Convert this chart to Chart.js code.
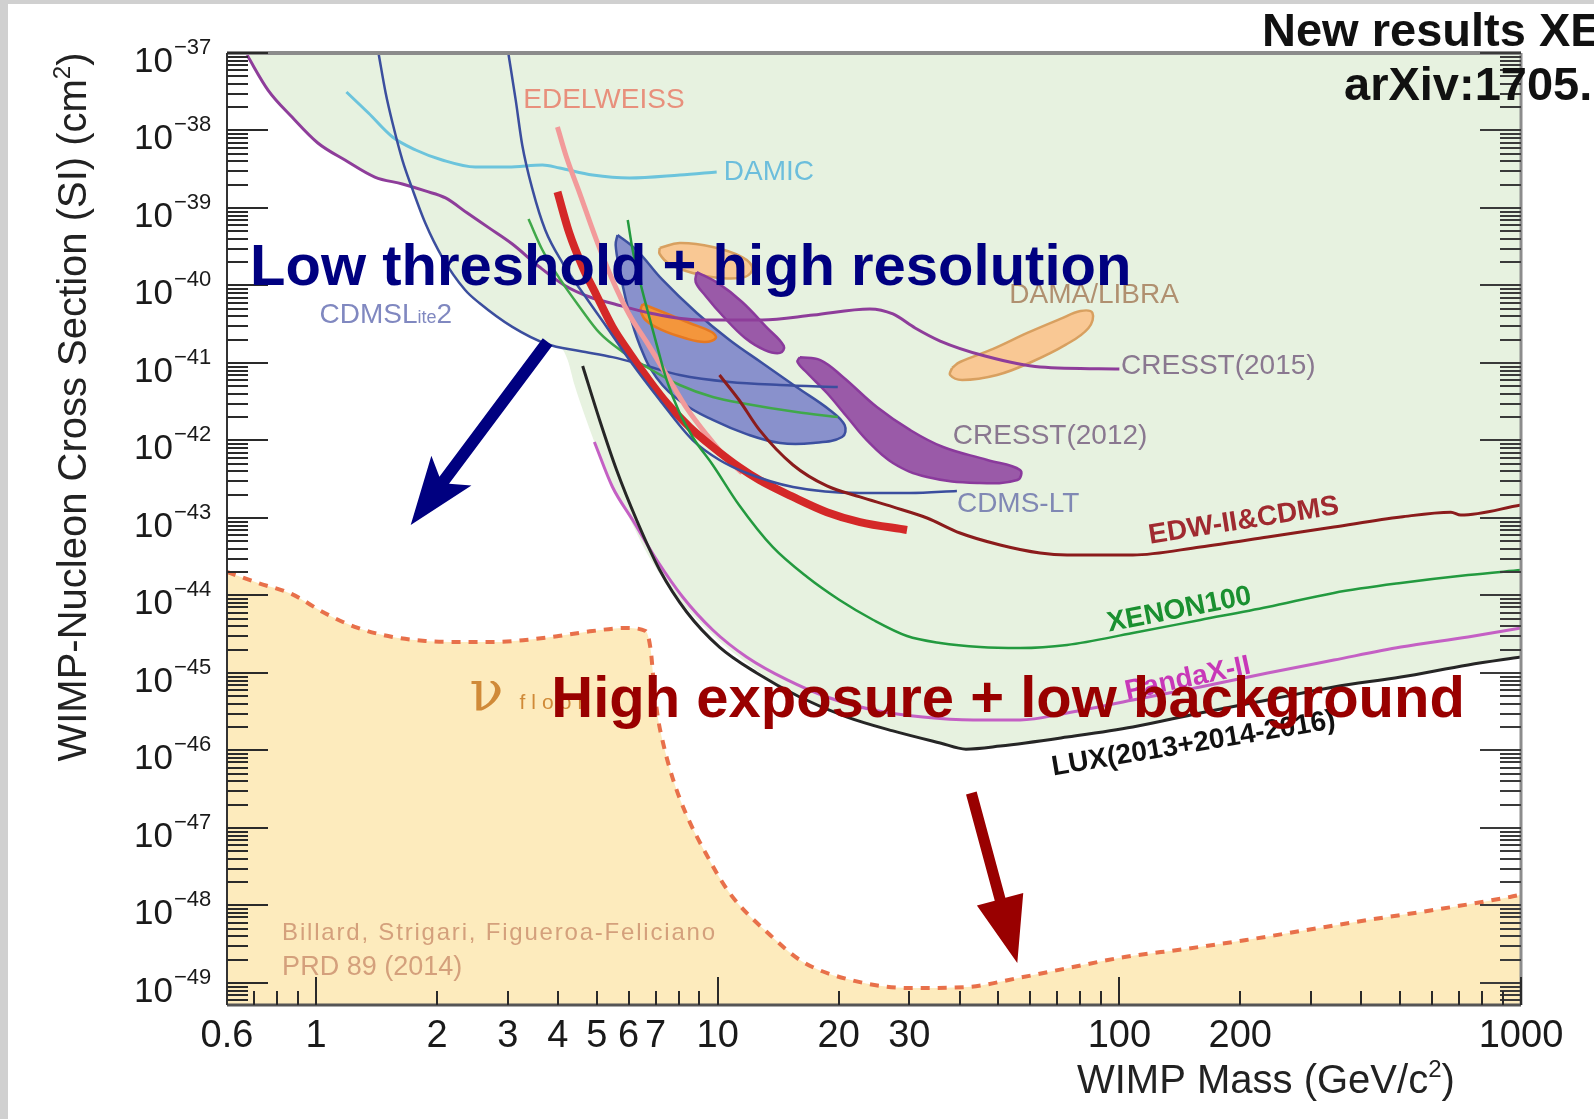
<!DOCTYPE html>
<html>
<head>
<meta charset="utf-8">
<title>WIMP limits</title>
<script src="https://cdn.jsdelivr.net/npm/chart.js@4.4.1/dist/chart.umd.min.js"></script>
<style>
  html, body { margin: 0; padding: 0; background: #fff; }
  #wrap { width: 1594px; height: 1119px; }
</style>
</head>
<body>
<div id="wrap"><canvas id="limitChart" width="1594" height="1119"></canvas></div>
<script>
// 1. DATA (mass in GeV/c^2, cross section in cm^2)
const cresst2015Mass  = [0.673, 0.759, 0.871, 1.01, 1.18, 1.40, 1.64, 1.87, 2.10, 2.38, 2.70, 3.08, 3.60, 4.15, 4.80, 5.53, 6.77, 9.02, 12.9, 17.3, 23.9, 27.3, 31.0, 35.8, 46.3, 63.5, 100];
const cresst2015Sigma = [9.4e-38, 3.33e-38, 1.49e-38, 6.9e-39, 4.16e-39, 2.51e-39, 2.04e-39, 1.66e-39, 1.35e-39, 8.6e-40, 5.5e-40, 3.43e-40, 1.73e-40, 1.01e-40, 7.1e-41, 5.77e-41, 4.42e-41, 3.59e-41, 3.59e-41, 4.16e-41, 4.98e-41, 4.29e-41, 2.83e-41, 1.92e-41, 1.23e-41, 8.87e-42, 8.37e-42];

const damicMass  = [1.19, 1.35, 1.55, 1.77, 2.06, 2.49, 3.01, 3.66, 4.04, 4.88, 6.03, 8.04, 9.94];
const damicSigma = [3.14e-38, 1.68e-38, 8.24e-39, 5.6e-39, 4.16e-39, 3.38e-39, 3.38e-39, 3.59e-39, 3.28e-39, 2.67e-39, 2.44e-39, 2.67e-39, 2.92e-39];

const cdmsliteMass  = [1.43, 1.49, 1.55, 1.64, 1.74, 1.87, 2.06, 2.35, 2.55, 3.08, 3.75, 4.53, 5.47, 6.65, 8.04, 10.7, 14.3, 19.9];
const cdmsliteSigma = [1.0e-37, 3.05e-38, 1.25e-38, 4.16e-39, 1.71e-39, 6.4e-40, 2.33e-40, 8.75e-41, 5.94e-41, 2.92e-41, 1.76e-41, 1.43e-41, 1.19e-41, 9.14e-42, 7.0e-42, 5.69e-42, 5.2e-42, 4.9e-42];

const cdmsLtMass  = [3.01, 3.14, 3.26, 3.46, 3.72, 4.11, 4.69, 5.29, 6.03, 7.17, 8.66, 10.1, 11.8, 15.4, 22.6, 30.1, 39.4];
const cdmsLtSigma = [1.0e-37, 2.48e-38, 6.5e-39, 1.71e-39, 5.2e-40, 1.95e-40, 7.1e-41, 2.92e-41, 1.09e-41, 3.33e-42, 1.01e-42, 5.6e-43, 3.81e-43, 2.51e-43, 2.1e-43, 2.1e-43, 2.23e-43];

const edelweissMass  = [3.99, 4.20, 4.53, 4.99, 5.47, 6.03, 6.65, 7.46, 8.37, 9.39, 10.5, 11.5];
const edelweissSigma = [1.11e-38, 4.55e-39, 1.56e-39, 3.86e-40, 1.18e-40, 4.16e-41, 1.87e-41, 7.0e-42, 2.62e-42, 1.18e-42, 5.94e-43, 3.81e-43];

const redBandMass  = [3.99, 4.27, 4.61, 4.99, 5.47, 6.03, 6.65, 7.46, 8.51, 9.72, 11.3, 12.7, 15.4, 18.7, 22.6, 29.6];
const redBandSigma = [1.61e-39, 4.75e-40, 1.73e-40, 7.5e-41, 2.92e-41, 1.35e-41, 6.6e-42, 3.05e-42, 1.49e-42, 8.24e-43, 4.55e-43, 3.09e-43, 1.87e-43, 1.19e-43, 8.87e-44, 7.0e-44];

const greenThinMass  = [3.38, 3.66, 4.06, 4.53, 5.08, 5.80, 6.65, 8.04, 9.72, 11.8, 15.7, 19.9];
const greenThinSigma = [7.2e-40, 2.87e-40, 1.18e-40, 5.28e-41, 2.44e-41, 1.39e-41, 8.87e-42, 5.2e-42, 3.64e-42, 2.96e-42, 2.33e-42, 2.01e-42];

const xenon100Mass  = [5.97, 6.14, 6.39, 6.65, 7.05, 7.46, 8.04, 8.66, 9.72, 11.3, 13.7, 16.7, 20.1, 24.4, 29.6, 35.8, 45.0, 56.6, 74.1, 108, 159, 234, 342, 502, 738, 1000];
const xenon100Sigma = [7.0e-40, 2.87e-40, 1.18e-40, 5.28e-41, 1.71e-41, 6.04e-42, 2.26e-42, 1.11e-42, 4.83e-43, 1.47e-43, 4.23e-44, 1.73e-44, 8.75e-45, 4.83e-45, 3.0e-45, 2.44e-45, 2.16e-45, 2.1e-45, 2.3e-45, 3.28e-45, 4.83e-45, 7.1e-45, 1.08e-44, 1.45e-44, 1.84e-44, 2.13e-44];

const edwCdmsMass  = [10.1, 11.3, 12.7, 15.4, 18.7, 22.6, 27.3, 33.2, 40.1, 50.5, 63.5, 74.1, 108, 159, 234, 342, 502, 669, 708, 1000];
const edwCdmsSigma = [7.0e-42, 3.33e-42, 1.37e-42, 4.83e-43, 2.59e-43, 1.87e-43, 1.39e-43, 1.0e-43, 6.4e-44, 4.48e-44, 3.53e-44, 3.33e-44, 3.33e-44, 4.23e-44, 5.69e-44, 7.66e-44, 1.03e-43, 1.19e-43, 1.09e-43, 1.47e-43];

const luxMass  = [4.61, 5.08, 5.60, 6.28, 7.17, 8.37, 10.1, 12.5, 16.0, 21.0, 27.3, 35.8, 41.5, 50.5, 74.1, 108, 159, 234, 342, 502, 738, 1000];
const luxSigma = [9.14e-42, 1.84e-42, 4.16e-43, 9.42e-44, 2.13e-44, 6.12e-45, 2.16e-45, 1.0e-45, 4.9e-46, 2.7e-46, 1.79e-46, 1.25e-46, 1.04e-46, 1.14e-46, 1.49e-46, 2.01e-46, 3.05e-46, 4.48e-46, 6.6e-46, 8.87e-46, 1.27e-45, 1.61e-45];

const pandaxMass  = [4.93, 5.47, 6.14, 7.05, 8.18, 9.72, 11.8, 14.9, 18.7, 24.4, 32.4, 43.3, 56.6, 74.1, 108, 159, 234, 342, 502, 738, 1000];
const pandaxSigma = [9.57e-43, 2.51e-43, 9.42e-44, 2.87e-44, 9.57e-45, 3.59e-45, 1.61e-45, 8.13e-46, 4.9e-46, 3.33e-46, 2.7e-46, 2.48e-46, 2.48e-46, 3.05e-46, 4.48e-46, 6.6e-46, 1.0e-45, 1.47e-45, 2.16e-45, 2.92e-45, 3.81e-45];

const nuFloorMass  = [0.6, 0.717, 0.871, 1.05, 1.27, 1.55, 1.87, 2.26, 2.75, 3.32, 4.01, 4.88, 5.90, 6.61, 6.81, 6.92, 7.08, 7.33, 7.72, 8.32, 9.33, 10.7, 13.5, 16.3, 21.5, 30.3, 41.8, 56.0, 74.6, 103, 146, 207, 293, 415, 607, 939, 1000];
const nuFloorSigma = [2.01e-44, 1.45e-44, 1.04e-44, 5.94e-45, 3.81e-45, 2.92e-45, 2.59e-45, 2.51e-45, 2.51e-45, 2.67e-45, 3.0e-45, 3.48e-45, 3.81e-45, 3.48e-45, 1.98e-45, 8.13e-46, 2.87e-46, 1.18e-46, 4.42e-47, 1.56e-47, 4.75e-48, 1.45e-48, 4.16e-49, 1.87e-49, 1.09e-49, 8.6e-50, 8.87e-50, 1.16e-49, 1.56e-49, 2.16e-49, 2.75e-49, 3.59e-49, 4.83e-49, 6.5e-49, 8.75e-49, 1.29e-48, 1.38e-48];

// lower edge of the green (excluded) region
const excludedMass  = [0.673, 0.759, 0.871, 1.01, 1.18, 1.40, 1.64, 1.73, 1.87, 2.06, 2.35, 2.55, 3.08, 3.75, 4.08, 4.23, 4.40, 4.66, 4.93, 5.38, 5.97, 6.77, 8.04, 9.72, 12.0, 16.0, 21.0, 27.3, 35.8, 41.5, 50.5, 74.1, 108, 159, 234, 342, 502, 738, 1000];
const excludedSigma = [9.4e-38, 3.33e-38, 1.49e-38, 6.9e-39, 4.16e-39, 2.51e-39, 2.04e-39, 1.81e-39, 6.4e-40, 2.33e-40, 8.75e-41, 5.94e-41, 2.92e-41, 1.76e-41, 1.56e-41, 1.09e-41, 5.2e-42, 2.13e-42, 9.57e-43, 3.09e-43, 1.09e-43, 3.05e-44, 8.75e-45, 3.09e-45, 1.27e-45, 4.9e-46, 2.7e-46, 1.79e-46, 1.25e-46, 1.04e-46, 1.14e-46, 1.49e-46, 2.01e-46, 3.05e-46, 4.48e-46, 6.6e-46, 8.87e-46, 1.27e-45, 1.61e-45];

// signal regions (closed contours)
const cdmsSiMass  = [5.63, 6.28, 7.29, 8.87, 10.7, 12.9, 15.7, 19.0, 20.7, 20.4, 17.3, 14.3, 11.8, 9.72, 8.18, 7.05, 6.39, 5.97, 5.70, 5.57, 5.63];
const cdmsSiSigma = [4.49e-40, 2.87e-40, 1.18e-40, 4.42e-41, 1.98e-41, 1.0e-41, 4.9e-42, 2.48e-42, 1.58e-42, 1.11e-42, 9.29e-43, 9.29e-43, 1.21e-42, 1.84e-42, 3.05e-42, 6.4e-42, 1.71e-41, 5.28e-41, 1.58e-40, 3.33e-40, 4.49e-40];

const cresst2012aMass  = [8.87, 10.0, 11.5, 13.2, 14.6, 14.3, 13.1, 11.7, 10.3, 9.33, 8.81, 8.87];
const cresst2012aSigma = [1.49e-40, 1.08e-40, 6.12e-41, 2.92e-41, 1.66e-41, 1.35e-41, 1.47e-41, 2.1e-41, 4.04e-41, 7.33e-41, 1.11e-40, 1.49e-40];

const cresst2012bMass  = [16.0, 18.0, 20.5, 24.9, 30.1, 36.4, 46.9, 56.6, 55.7, 44.3, 33.2, 27.3, 23.5, 21.0, 18.7, 16.7, 15.8, 16.0];
const cresst2012bSigma = [1.19e-41, 1.09e-41, 6.6e-42, 2.7e-42, 1.37e-42, 8.24e-43, 5.6e-43, 4.16e-43, 3.09e-43, 2.83e-43, 3.38e-43, 5.13e-43, 1.01e-42, 2.01e-42, 4.1e-42, 7.43e-42, 1.03e-41, 1.19e-41];

const damaAMass  = [7.17, 8.04, 9.72, 11.5, 12.2, 11.7, 10.1, 8.66, 7.59, 7.17, 7.17];
const damaASigma = [3.05e-40, 3.53e-40, 3.14e-40, 2.33e-40, 1.68e-40, 1.29e-40, 1.25e-40, 1.45e-40, 1.89e-40, 2.55e-40, 3.05e-40];

const damaBMass  = [38.3, 40.1, 48.5, 59.0, 71.3, 80.0, 85.7, 83.8, 73.4, 60.4, 49.6, 40.6, 37.9, 38.3];
const damaBSigma = [8.6e-42, 1.03e-41, 1.52e-41, 2.44e-41, 3.7e-41, 4.69e-41, 4.42e-41, 2.83e-41, 1.71e-41, 1.03e-41, 7.0e-42, 6.04e-42, 7.0e-42, 8.6e-42];

const orangeSpotMass  = [6.50, 7.29, 8.51, 9.66, 9.89, 9.28, 8.27, 7.25, 6.61, 6.43, 6.50];
const orangeSpotSigma = [5.77e-41, 4.55e-41, 3.28e-41, 2.51e-41, 2.1e-41, 1.87e-41, 2.1e-41, 2.67e-41, 3.59e-41, 4.83e-41, 5.77e-41];

// axis ticks
const xTickLabels = [0.6, 1, 2, 3, 4, 5, 6, 7, 10, 20, 30, 100, 200, 1000];
const yTickExponents = [-37, -38, -39, -40, -41, -42, -43, -44, -45, -46, -47, -48, -49];
const X_MIN = 0.6, X_MAX = 1000, Y_MIN = 5.2e-50, Y_MAX = 1e-37;

// 2. ANNOTATIONS (anchored in data coordinates)
const FONT = '"Liberation Sans", Arial, Helvetica, sans-serif';
const curveLabels = [
  { text: 'EDELWEISS', m: 3.28, s: 1.98e-38, color: '#e8907c', font: '28px ' + FONT },
  { text: 'DAMIC', m: 10.35, s: 2.30e-39, color: '#6cbedc', font: '28px ' + FONT },
  { text: 'DAMA/LIBRA', m: 53.2, s: 5.94e-41, color: '#b09070', font: '28px ' + FONT },
  { text: 'CRESST(2015)', m: 101, s: 7.2e-42, color: '#8a7890', font: '28px ' + FONT },
  { text: 'CRESST(2012)', m: 38.5, s: 9.0e-43, color: '#8a7890', font: '28px ' + FONT },
  { text: 'CDMS-LT', m: 39.4, s: 1.19e-43, color: '#8088b4', font: '28px ' + FONT },
  { text: 'EDW-II&CDMS', m: 204, s: 9.14e-44, color: '#a02a30', font: 'bold 28px ' + FONT, rot: -9, align: 'center', baseline: 'middle' },
  { text: 'XENON100', m: 141, s: 6.5e-45, color: '#1a9030', font: 'bold 28px ' + FONT, rot: -11, align: 'center', baseline: 'middle' },
  { text: 'PandaX-II', m: 148, s: 8.4e-46, color: '#c838b8', font: 'bold 28px ' + FONT, rot: -12, align: 'center', baseline: 'middle' },
  { text: 'LUX(2013+2014-2016)', m: 153, s: 1.21e-46, color: '#111111', font: 'bold 28px ' + FONT, rot: -9.5, align: 'center', baseline: 'middle' },
  { text: '\u03bd', m: 2.41, s: 5.2e-46, color: '#d08a38', font: '56px "DejaVu Serif", serif', baseline: 'middle' },
  { text: 'floor', m: 3.21, s: 4.1e-46, color: '#d08a38', font: '21px ' + FONT, baseline: 'middle', spacing: '6px' },
  { text: 'Billard, Strigari, Figueroa-Feliciano', m: 0.823, s: 3.59e-49, color: '#d4a07c', font: '24px ' + FONT, spacing: '1.8px' },
  { text: 'PRD 89 (2014)', m: 0.823, s: 1.27e-49, color: '#d4a07c', font: '27px ' + FONT }
];
const bigTexts = [
  { text: 'Low threshold + high resolution', m: 0.685, s: 1.01e-40, color: '#000080', font: 'bold 58px ' + FONT, maxW: 890 },
  { text: 'High exposure + low background', m: 3.85, s: 2.70e-46, color: '#990000', font: 'bold 58px ' + FONT, maxW: 925 }
];
const arrowMarks = [
  { from: [3.77, 1.87e-41], to: [1.72, 8.1e-44], color: '#000080', shaft: 12, head: 68, headW: 50, barb: 12 },
  { from: [42.8, 2.83e-47], to: [55.7, 1.81e-49], color: '#990000', shaft: 11, head: 66, headW: 48, barb: 0 }
];

// 3. HELPERS
function pairs(ms, ss) {
  return ms.map((m, i) => ({ x: m, y: ss[i] }));
}
function curve(label, ms, ss, color, width, order) {
  return { label, data: pairs(ms, ss), borderColor: color, borderWidth: width, pointRadius: 0,
           fill: false, cubicInterpolationMode: 'monotone', order };
}
function blob(label, ms, ss, fillColor, lineColor, order) {
  return { label, data: pairs(ms, ss), borderColor: lineColor, backgroundColor: fillColor, borderWidth: 2.5,
           pointRadius: 0, fill: 'shape', tension: 0.4, order };
}
function drawText(ctx, text, x, y, font, color, o) {
  o = o || {};
  ctx.save();
  ctx.translate(x, y);
  if (o.rot) ctx.rotate(o.rot * Math.PI / 180);
  ctx.font = font;
  ctx.fillStyle = color;
  ctx.textAlign = o.align || 'left';
  ctx.textBaseline = o.baseline || 'alphabetic';
  if (o.spacing) ctx.letterSpacing = o.spacing;
  if (o.maxW) ctx.fillText(text, 0, 0, o.maxW); else ctx.fillText(text, 0, 0);
  ctx.restore();
}
// text made of pieces (for superscripts); parts = [[text, font, dy]]
function drawParts(ctx, parts, x, y, color) {
  ctx.save();
  ctx.fillStyle = color;
  ctx.textAlign = 'left';
  ctx.textBaseline = 'alphabetic';
  let cx = x;
  parts.forEach(p => {
    ctx.font = p[1];
    ctx.fillText(p[0], cx, y + (p[2] || 0));
    cx += ctx.measureText(p[0]).width;
  });
  ctx.restore();
}
function partsWidth(ctx, parts) {
  let w = 0;
  ctx.save();
  parts.forEach(p => { ctx.font = p[1]; w += ctx.measureText(p[0]).width; });
  ctx.restore();
  return w;
}
function drawArrow(ctx, x0, y0, x1, y1, a) {
  const len = Math.hypot(x1 - x0, y1 - y0);
  ctx.save();
  ctx.translate(x1, y1);
  ctx.rotate(Math.atan2(y1 - y0, x1 - x0));
  ctx.fillStyle = a.color;
  ctx.beginPath();
  ctx.moveTo(0, 0);
  ctx.lineTo(-a.head, -a.headW / 2);
  ctx.lineTo(-a.head + a.barb, -a.shaft / 2);
  ctx.lineTo(-len, -a.shaft / 2);
  ctx.lineTo(-len, a.shaft / 2);
  ctx.lineTo(-a.head + a.barb, a.shaft / 2);
  ctx.lineTo(-a.head, a.headW / 2);
  ctx.closePath();
  ctx.fill();
  ctx.restore();
}

// 4. DECORATION PLUGIN (frame, inward ticks, labels, texts)
const decorations = {
  id: 'decorations',
  beforeDraw(chart) {
    const { ctx, width, height } = chart;
    ctx.save();
    ctx.fillStyle = '#ffffff';
    ctx.fillRect(0, 0, width, height);
    ctx.fillStyle = '#d0d0d0';
    ctx.fillRect(0, 0, 8, height);
    ctx.fillRect(0, 0, width, 4);
    ctx.restore();
  },
  afterDatasetsDraw(chart) {
    const { ctx, chartArea: a } = chart;
    const xs = chart.scales.x, ys = chart.scales.y;
    const px = v => xs.getPixelForValue(v), py = v => ys.getPixelForValue(v);

    ctx.save();
    // frame
    ctx.lineWidth = 4; ctx.strokeStyle = '#8c8c8c';
    ctx.beginPath(); ctx.moveTo(a.left, a.top); ctx.lineTo(a.right, a.top); ctx.stroke();
    ctx.lineWidth = 3;
    ctx.beginPath(); ctx.moveTo(a.right, a.top); ctx.lineTo(a.right, a.bottom); ctx.stroke();
    ctx.strokeStyle = '#555';
    ctx.beginPath(); ctx.moveTo(a.left, a.bottom); ctx.lineTo(a.right, a.bottom); ctx.stroke();
    ctx.lineWidth = 2; ctx.strokeStyle = '#333';
    ctx.beginPath(); ctx.moveTo(a.left, a.top); ctx.lineTo(a.left, a.bottom); ctx.stroke();

    // y ticks, both sides, pointing inwards
    ctx.lineWidth = 2;
    for (let e = -50; e <= -37; e++) {
      for (let k = 1; k <= 9; k++) {
        const v = k * Math.pow(10, e);
        if (v < Y_MIN || v > Y_MAX * 1.0001) continue;
        const y = Math.round(py(v));
        const len = k === 1 ? 41 : 21;
        ctx.strokeStyle = '#2a2a2a';
        ctx.beginPath(); ctx.moveTo(a.left, y); ctx.lineTo(a.left + len, y); ctx.stroke();
        ctx.strokeStyle = '#3a3a3a';
        ctx.beginPath(); ctx.moveTo(a.right, y); ctx.lineTo(a.right - len, y); ctx.stroke();
      }
    }
    // x ticks, pointing up
    ctx.strokeStyle = '#2a2a2a';
    for (let e = -1; e <= 3; e++) {
      for (let k = 1; k <= 9; k++) {
        const v = k * Math.pow(10, e);
        if (v <= X_MIN * 1.0001 || v > X_MAX * 1.0001) continue;
        const x = Math.round(px(v));
        const len = k === 1 ? 28 : 14;
        ctx.beginPath(); ctx.moveTo(x, a.bottom); ctx.lineTo(x, a.bottom - len); ctx.stroke();
      }
    }

    // tick labels
    ctx.fillStyle = '#1a1a1a';
    ctx.font = '38px ' + FONT;
    ctx.textAlign = 'center';
    ctx.textBaseline = 'alphabetic';
    xTickLabels.forEach(v => ctx.fillText(String(v), px(v), a.bottom + 42));
    yTickExponents.forEach(e => {
      const y = py(Math.pow(10, e));
      drawText(ctx, '10', 173, y + 19, '35px ' + FONT, '#1a1a1a', { align: 'right' });
      drawText(ctx, '\u2212' + Math.abs(e), 174, y + 1, '22px ' + FONT, '#1a1a1a');
    });

    // axis titles
    const yTitle = [['WIMP-Nucleon Cross Section (SI) (cm', '40px ' + FONT], ['2', '24px ' + FONT, -16], [')', '40px ' + FONT]];
    ctx.save();
    ctx.translate(86, 407);
    ctx.rotate(-Math.PI / 2);
    drawParts(ctx, yTitle, -partsWidth(ctx, yTitle) / 2, 0, '#222');
    ctx.restore();
    const xTitle = [['WIMP Mass (GeV/c', '40px ' + FONT], ['2', '24px ' + FONT, -16], [')', '40px ' + FONT]];
    drawParts(ctx, xTitle, 1077, 1093, '#222');

    // curve labels
    curveLabels.forEach(l => drawText(ctx, l.text, px(l.m), py(l.s), l.font, l.color, l));
    // CDMSLite2 with small "ite"
    const liteParts = [['CDMSL', '28px ' + FONT], ['ite', '18px ' + FONT], ['2', '28px ' + FONT]];
    drawParts(ctx, liteParts, px(1.02), py(3.28e-41), '#8088c0');

    // arrows
    arrowMarks.forEach(m => drawArrow(ctx, px(m.from[0]), py(m.from[1]), px(m.to[0]), py(m.to[1]), m));

    // big overlay texts
    bigTexts.forEach(t => drawText(ctx, t.text, px(t.m), py(t.s), t.font, t.color, { maxW: t.maxW }));

    // header (cut by the page edge as in the slide)
    drawText(ctx, 'New results XENON1T', 1262, 46, 'bold 47px ' + FONT, '#111');
    drawText(ctx, 'arXiv:1705.06655', 1344, 100, 'bold 47px ' + FONT, '#111');
    ctx.restore();
  }
};

// 5. CHART
const datasets = [
  curve('LUX (2013+2014-2016)', luxMass, luxSigma, '#262626', 3, 1),
  curve('PandaX-II', pandaxMass, pandaxSigma, '#c460c4', 3, 2),
  curve('XENON100', xenon100Mass, xenon100Sigma, '#239a3f', 2.5, 3),
  curve('EDW-II & CDMS', edwCdmsMass, edwCdmsSigma, '#8b1c1c', 3, 4),
  curve('CDMS-LT', cdmsLtMass, cdmsLtSigma, '#3b4e9e', 2.5, 5),
  curve('Red band', redBandMass, redBandSigma, '#d42828', 8, 6),
  curve('EDELWEISS', edelweissMass, edelweissSigma, '#f29a9a', 5, 7),
  curve('Green limit', greenThinMass, greenThinSigma, '#40a84a', 2.5, 8),
  curve('CDMSlite2', cdmsliteMass, cdmsliteSigma, '#3b4e9e', 2.5, 9),
  curve('CRESST (2015)', cresst2015Mass, cresst2015Sigma, '#8e3d9a', 3, 10),
  curve('DAMIC', damicMass, damicSigma, '#6cc4dc', 3, 11),
  blob('Orange spot', orangeSpotMass, orangeSpotSigma, '#f4963c', '#e57822', 20),
  blob('CRESST (2012) A', cresst2012aMass, cresst2012aSigma, '#9a5aa8', '#8a3a9c', 21),
  blob('CRESST (2012) B', cresst2012bMass, cresst2012bSigma, '#9a5aa8', '#8a3a9c', 22),
  blob('CDMS-Si', cdmsSiMass, cdmsSiSigma, 'rgba(120,128,200,0.85)', '#3c50a0', 23),
  blob('DAMA/LIBRA A', damaAMass, damaASigma, '#f9c894', '#d8a060', 24),
  blob('DAMA/LIBRA B', damaBMass, damaBSigma, '#f9c894', '#d8a060', 25),
  { label: 'Neutrino floor', data: pairs(nuFloorMass, nuFloorSigma), borderColor: '#e8704a', borderWidth: 4,
    borderDash: [9, 8], backgroundColor: '#fdebbd', fill: 'start', pointRadius: 0,
    cubicInterpolationMode: 'monotone', order: 30 },
  { label: 'Excluded', data: pairs(excludedMass, excludedSigma), borderWidth: 0, borderColor: 'rgba(0,0,0,0)',
    backgroundColor: '#e7f2e0', fill: 'end', pointRadius: 0, cubicInterpolationMode: 'monotone', order: 40 }
];

new Chart(document.getElementById('limitChart'), {
  type: 'line',
  data: { datasets },
  options: {
    responsive: false,
    animation: false,
    layout: { padding: { left: 227, top: 53, right: 73, bottom: 114 } },
    scales: {
      x: { type: 'logarithmic', min: X_MIN, max: X_MAX, display: false },
      y: { type: 'logarithmic', min: Y_MIN, max: Y_MAX, display: false }
    },
    plugins: { legend: { display: false }, tooltip: { enabled: false } }
  },
  plugins: [decorations]
});
</script>
</body>
</html>
